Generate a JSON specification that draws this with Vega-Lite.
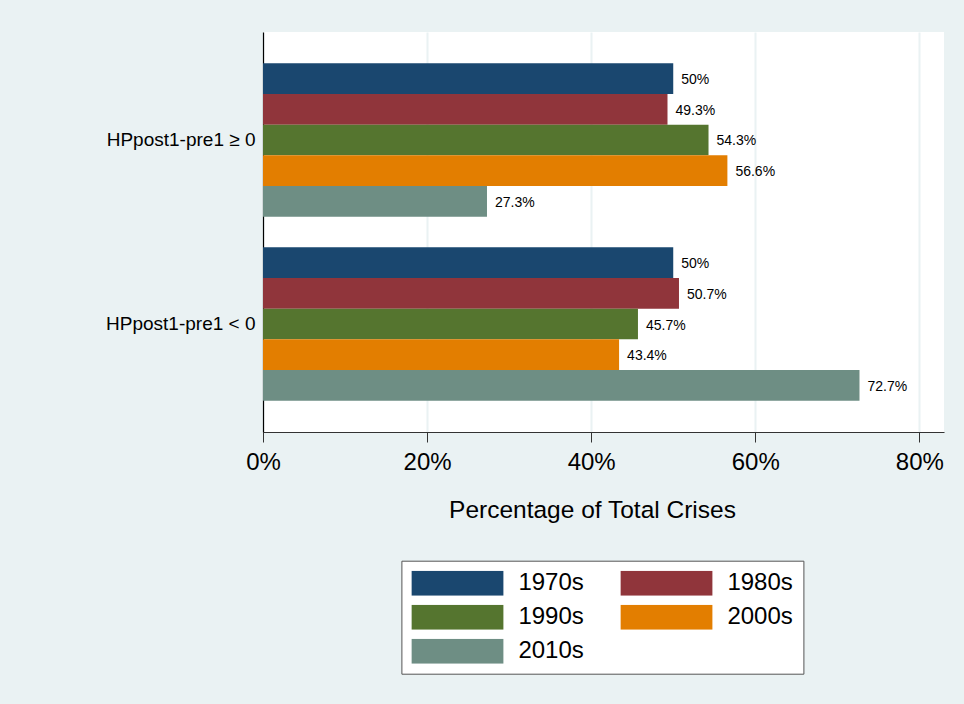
{
  "$schema": "https://vega.github.io/schema/vega-lite/v6.json",
  "width": 681,
  "height": 400,
  "autosize": {"type": "none"},
  "padding": {"left": 263, "top": 32, "right": 20, "bottom": 272},
  "background": "#EAF2F3",
  "config": {
    "font": "Liberation Sans",
    "view": {"fill": "white", "stroke": null}
  },
  "data": {
    "values": [
      {"group": "HPpost1-pre1 ≥ 0", "decade": "1970s", "share": 0.5},
      {"group": "HPpost1-pre1 ≥ 0", "decade": "1980s", "share": 0.493},
      {"group": "HPpost1-pre1 ≥ 0", "decade": "1990s", "share": 0.543},
      {"group": "HPpost1-pre1 ≥ 0", "decade": "2000s", "share": 0.566},
      {"group": "HPpost1-pre1 ≥ 0", "decade": "2010s", "share": 0.273},
      {"group": "HPpost1-pre1 < 0", "decade": "1970s", "share": 0.5},
      {"group": "HPpost1-pre1 < 0", "decade": "1980s", "share": 0.507},
      {"group": "HPpost1-pre1 < 0", "decade": "1990s", "share": 0.457},
      {"group": "HPpost1-pre1 < 0", "decade": "2000s", "share": 0.434},
      {"group": "HPpost1-pre1 < 0", "decade": "2010s", "share": 0.727}
    ]
  },
  "encoding": {
    "y": {
      "field": "group",
      "type": "nominal",
      "scale": {"domain": ["HPpost1-pre1 ≥ 0", "HPpost1-pre1 < 0"], "paddingInner": 0.1667, "paddingOuter": 0.17},
      "axis": {
        "title": null,
        "ticks": false,
        "labelFontSize": 19,
        "labelColor": "black",
        "labelPadding": 8,
        "domainColor": "black",
        "domainWidth": 1.2,
        "grid": false
      }
    },
    "yOffset": {
      "field": "decade",
      "type": "nominal",
      "scale": {"domain": ["1970s", "1980s", "1990s", "2000s", "2010s"], "paddingInner": 0, "paddingOuter": 0}
    },
    "x": {
      "field": "share",
      "type": "quantitative",
      "scale": {"domain": [0, 0.83], "nice": false},
      "axis": {
        "title": "Percentage of Total Crises",
        "titleFontSize": 24.5,
        "titleFontWeight": "normal",
        "titleColor": "black",
        "titlePadding": 24,
        "titleX": 329,
        "titleAlign": "center",
        "values": [0, 0.2, 0.4, 0.6, 0.8],
        "format": "~%",
        "labelFontSize": 24,
        "labelColor": "black",
        "labelPadding": 8,
        "labelFlush": false,
        "tickSize": 10,
        "tickColor": "#333333",
        "domainColor": "#333333",
        "domainWidth": 1.2,
        "grid": true,
        "gridColor": "#EAF2F3",
        "gridWidth": 2
      }
    }
  },
  "layer": [
    {
      "mark": {"type": "bar", "cornerRadius": 0},
      "encoding": {
        "color": {
          "field": "decade",
          "type": "nominal",
          "scale": {
            "domain": ["1970s", "1980s", "1990s", "2000s", "2010s"],
            "range": ["#1a476f", "#90353b", "#55752f", "#e37e00", "#6e8e84"]
          },
          "legend": {
            "title": null,
            "orient": "none",
            "legendX": 138.4,
            "legendY": 528.7,
            "columns": 2,
            "direction": "horizontal",
            "symbolType": "M-1,-0.272H1V0.272H-1Z",
            "symbolSize": 8464,
            "symbolStrokeWidth": 0,
            "symbolOpacity": 1,
            "clipHeight": 25,
            "rowPadding": 9,
            "columnPadding": 36,
            "labelOffset": 15,
            "labelFontSize": 24,
            "labelColor": "black",
            "padding": 10,
            "fillColor": "white",
            "strokeColor": "#555555"
          }
        }
      }
    },
    {
      "mark": {"type": "text", "align": "left", "baseline": "middle", "dx": 8, "dy": 1.5, "fontSize": 14, "color": "black"},
      "encoding": {
        "text": {"field": "share", "type": "quantitative", "format": ".1~%"}
      }
    }
  ]
}
